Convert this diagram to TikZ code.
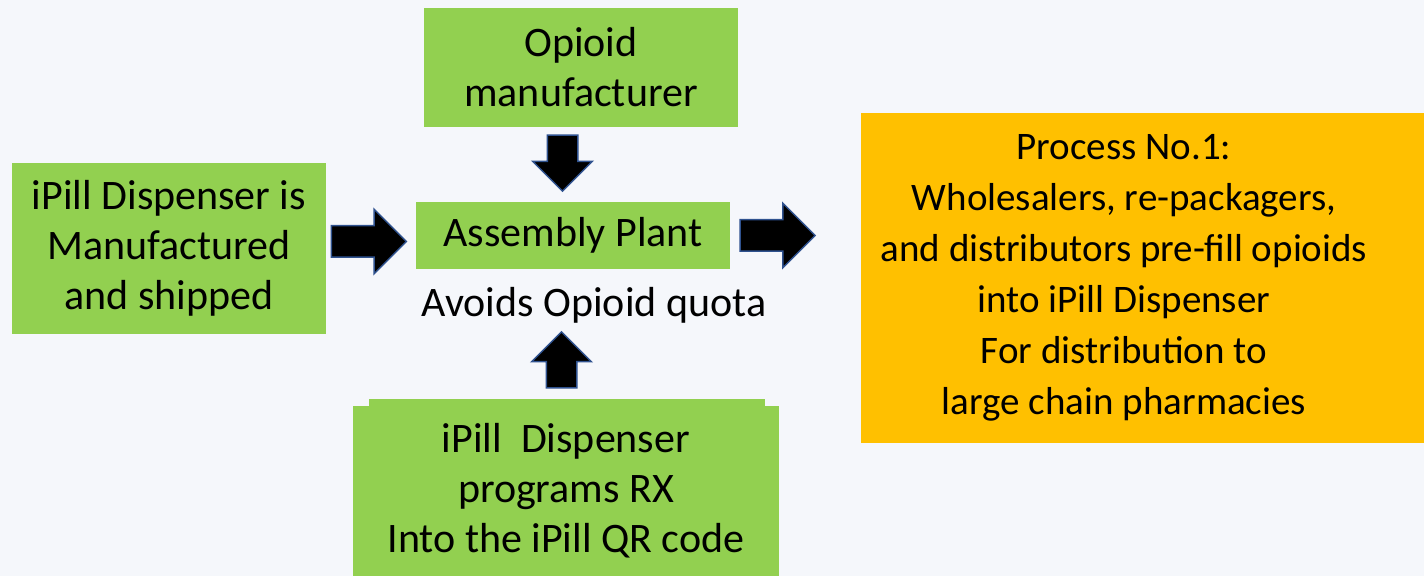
\documentclass[tikz,border=0pt]{standalone}
\usepackage{fontspec}
\setmainfont{Carlito}
\usetikzlibrary{shapes.arrows,calc}

\definecolor{leafgreen}{HTML}{92D050}
\definecolor{amber}{HTML}{FFC000}
\definecolor{arrowedge}{HTML}{2F528F}
\definecolor{slide}{HTML}{F5F7FB}

\tikzset{
	greenbox/.style={fill=leafgreen, align=center, inner sep=0pt, font=\fontsize{21}{25}\selectfont},
	plaintext/.style={align=center, inner sep=0pt, font=\fontsize{21}{25}\selectfont},
	proctext/.style={align=center, inner sep=0pt, font=\fontsize{19.5}{25.5}\selectfont},
	blockarrow/.style={single arrow, anchor=tail, fill=black, draw=arrowedge, line width=0.75pt, inner xsep=0pt, single arrow head indent=0pt},
	widearrow/.style={blockarrow, minimum height=37.5pt, inner ysep=7.5pt, single arrow head extend=8.25pt},
	tallarrow/.style={blockarrow, minimum height=28pt, inner ysep=7.25pt, single arrow head extend=7.25pt}
}

\begin{document}
\begin{tikzpicture}[x=0.5pt,y=-0.5pt]
		
		\fill[slide] (0,0) rectangle (1424,576);
		\useasboundingbox (0,0) rectangle (1424,576);
		
		
		\node[greenbox, minimum width=157pt, minimum height=59.5pt] (mfr) at (581,67.5) {Opioid\\manufacturer};
		\node[greenbox, minimum width=157pt, minimum height=85.5pt] (disp) at (169,248.5) {iPill Dispenser is\\Manufactured\\and shipped};
		\node[greenbox, minimum width=157pt, minimum height=33.5pt] (asm) at (573,235.5) {Assembly Plant};
		\node[plaintext] (quota) at (594,305) {Avoids Opioid quota};
		
		\fill[leafgreen] (369,399) rectangle (765,407);
		\node[greenbox, minimum width=213pt, minimum height=85pt] (qr) at (566,491) {iPill\ \ Dispenser\\programs RX\\Into the iPill QR code};
		
		\fill[amber] (861,113) rectangle (1424,443);
		\node[proctext] (proc) at (1124,278) {Process No.1:\\Wholesalers, re-packagers,\\and distributors pre-fill opioids\\into iPill Dispenser\\For distribution to\\large chain pharmacies};
		
		
		\node[widearrow] (toasm) at ($(asm.west)+(-85,6)$) {};
		\node[widearrow] (toproc) at ($(asm.east)+(9,0)$) {};
		\node[tallarrow, rotate=-90] (down) at ($(mfr.south)+(-18.5,7)$) {};
		\node[tallarrow, rotate=90] (up) at ($(qr.north)+(-4.5,-17)$) {};
		
		
		
	\end{tikzpicture}
\end{document}
